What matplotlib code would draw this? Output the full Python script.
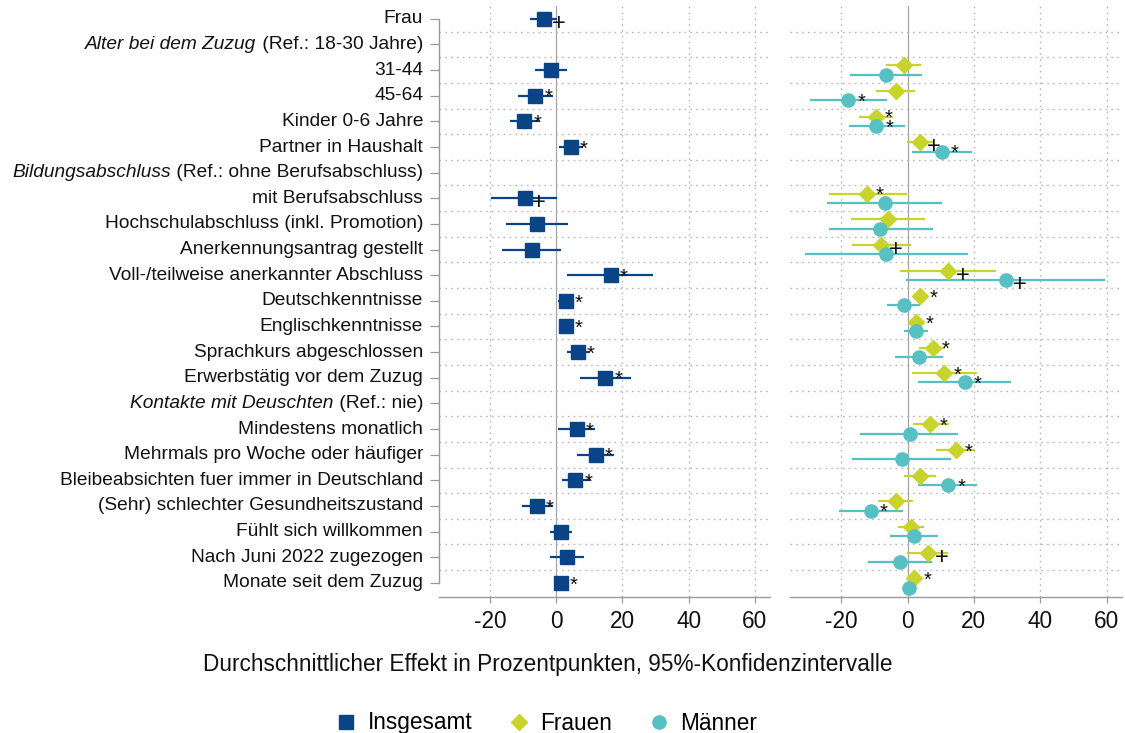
import numpy as np
import matplotlib
matplotlib.use("Agg")
import matplotlib.pyplot as plt
from matplotlib.lines import Line2D

plt.rcParams['font.family'] = ['Liberation Sans', 'DejaVu Sans']

nan = np.nan

# ---- data -------------------------------------------------------------
labels = [
    "Frau",
    ("Alter bei dem Zuzug", " (Ref.: 18-30 Jahre)"),
    "31-44",
    "45-64",
    "Kinder 0-6 Jahre",
    "Partner in Haushalt",
    ("Bildungsabschluss", " (Ref.: ohne Berufsabschluss)"),
    "mit Berufsabschluss",
    "Hochschulabschluss (inkl. Promotion)",
    "Anerkennungsantrag gestellt",
    "Voll-/teilweise anerkannter Abschluss",
    "Deutschkenntnisse",
    "Englischkenntnisse",
    "Sprachkurs abgeschlossen",
    "Erwerbstätig vor dem Zuzug",
    ("Kontakte mit Deuschten", " (Ref.: nie)"),
    "Mindestens monatlich",
    "Mehrmals pro Woche oder häufiger",
    "Bleibeabsichten fuer immer in Deutschland",
    "(Sehr) schlechter Gesundheitszustand",
    "Fühlt sich willkommen",
    "Nach Juni 2022 zugezogen",
    "Monate seit dem Zuzug",
]

# Insgesamt
ins_est = [-3.6, nan, -1.6, -6.3, -9.6, 4.4, nan, -9.4, -5.8, -7.3, 16.5, 2.9, 2.9, 6.6, 14.9,
           nan, 6.2, 12.0, 5.8, -5.8, 1.4, 3.2, 1.4]
ins_lo = [-7.8, nan, -6.3, -11.6, -13.9, 1.0, nan, -19.7, -15.1, -16.3, 3.4, 0.7, 1.2, 3.2, 7.2,
          nan, 0.7, 6.2, 1.7, -10.4, -2.0, -2.0, 0.2]
ins_hi = [0.4, nan, 3.2, -1.0, -5.1, 8.2, nan, 0.4, 3.5, 1.5, 29.3, 5.0, 4.7, 9.9, 22.5,
          nan, 11.8, 17.6, 10.3, -1.0, 4.7, 8.5, 2.7]
ins_sig = ["+", "", "", "*", "*", "*", "", "+", "", "", "*", "*", "*", "*", "*",
           "", "*", "*", "*", "*", "", "", "*"]

# Frauen
fr_est = [nan, nan, -1.1, -3.6, -9.6, 3.7, nan, -12.2, -6.0, -7.9, 12.3, 3.9, 2.7, 7.6, 11.1,
          nan, 6.9, 14.6, 3.7, -3.6, 1.0, 6.2, 2.0]
fr_lo = [nan, nan, -6.5, -9.6, -14.7, -0.3, nan, -23.7, -16.9, -16.6, -2.3, 1.5, 1.2, 3.5, 1.4,
         nan, 1.5, 8.6, -1.1, -8.9, -2.8, -0.3, 0.7]
fr_hi = [nan, nan, 4.2, 2.4, -4.3, 8.0, nan, -0.3, 5.2, 0.9, 26.7, 6.2, 4.2, 11.3, 20.8,
         nan, 12.5, 20.3, 8.6, 1.7, 5.0, 12.3, 3.2]
fr_sig = ["", "", "", "", "*", "+", "", "*", "", "+", "+", "*", "*", "*", "*",
          "", "*", "*", "", "", "", "+", "*"]

# Männer
ma_est = [nan, nan, -6.6, -17.9, -9.4, 10.3, nan, -6.8, -8.2, -6.4, 29.6, -1.1, 2.5, 3.4, 17.3,
          nan, 0.7, -1.8, 12.3, -11.1, 1.9, -2.3, 0.4]
ma_lo = [nan, nan, -17.2, -29.5, -17.7, 1.4, nan, -24.2, -23.8, -31.0, -0.5, -6.1, -1.0, -3.8, 3.2,
         nan, -14.4, -16.6, 3.2, -20.7, -5.3, -11.9, -0.5]
ma_hi = [nan, nan, 4.5, -6.3, -0.8, 19.3, nan, 10.5, 7.8, 18.3, 59.6, 3.9, 6.2, 10.8, 31.1,
         nan, 15.3, 13.0, 21.0, -1.3, 9.3, 7.3, 1.3]
ma_sig = ["", "", "", "*", "*", "*", "", "", "", "", "+", "", "", "", "*",
          "", "", "", "*", "*", "", "", ""]

xticks = [-20, 0, 20, 40, 60]
series_names = ["Insgesamt", "Frauen", "Männer"]

# ---- style ------------------------------------------------------------
C_INS = "#0b4387"
C_FR = "#c8d42b"
C_MA = "#57c0c3"
GRID = "#b8b8b8"
AX = "#9a9a9a"
BIG = 16.3
LBL_FS = 13.8

W, H = 1125, 733
fig = plt.figure(figsize=(W / 100, H / 100), dpi=100)

def frac_x(px):
    return px / W

def frac_y(py):
    return 1 - py / H

top, bot = 6, 597
axL = fig.add_axes([frac_x(439), frac_y(bot), frac_x(770 - 439), (bot - top) / H])
axR = fig.add_axes([frac_x(790), frac_y(bot), frac_x(1122 - 790), (bot - top) / H])

n = len(labels)
rows = np.arange(n)
XLIM = (-35.4, 64.6)

for ax in (axL, axR):
    ax.set_xlim(*XLIM)
    ax.set_ylim(n - 1 + 0.55, -0.5)
    for k in range(n - 1):
        ax.axhline(k + 0.5, color=GRID, lw=1.0, ls=(0, (1.2, 3.0)), zorder=0)
    for xv in xticks:
        if xv == 0:
            ax.axvline(0, color="#a5a5a5", lw=0.9, zorder=0.5)
        else:
            ax.axvline(xv, color=GRID, lw=1.0, ls=(0, (1.2, 3.0)), zorder=0)
    ax.set_xticks(xticks)
    ax.set_xticklabels([str(v) for v in xticks])
    ax.tick_params(axis="x", length=4.5, width=0.9, color=AX, labelsize=BIG,
                   pad=5, labelcolor="#111111")
    ax.spines["top"].set_visible(False)
    ax.spines["right"].set_visible(False)
    ax.spines["bottom"].set_color(AX)
    ax.spines["bottom"].set_linewidth(1.0)
    ax.set_facecolor("none")

# left axis spine with ticks
axL.spines["left"].set_color(AX)
axL.spines["left"].set_linewidth(1.0)
axL.spines["left"].set_bounds(0, n - 1)
axL.set_yticks(rows)
axL.set_yticklabels([])
axL.tick_params(axis="y", length=6.5, width=0.9, color=AX)
axR.spines["left"].set_visible(False)
axR.set_yticks([])

# row labels
for i, lab in enumerate(labels):
    if isinstance(lab, tuple):
        ital, norm = lab
        t = axL.annotate(norm, xy=(0, i), xycoords=("axes fraction", "data"),
                         xytext=(-16, 0), textcoords="offset pixels",
                         ha="right", va="center", fontsize=LBL_FS, color="#111111")
        axL.annotate(ital, xy=(0, 0), xycoords=t, ha="right", va="bottom",
                     fontsize=LBL_FS, fontstyle="italic", color="#111111")
    else:
        axL.annotate(lab, xy=(0, i), xycoords=("axes fraction", "data"),
                     xytext=(-16, 0), textcoords="offset pixels",
                     ha="right", va="center", fontsize=LBL_FS, color="#111111")


def draw_series(ax, est, lo, hi, sig, dy, color, marker, ms):
    est = np.asarray(est, float)
    lo = np.asarray(lo, float)
    hi = np.asarray(hi, float)
    y = rows + dy
    ok = ~np.isnan(est)
    ax.hlines(y[ok], lo[ok], hi[ok], color=color, lw=1.6, zorder=2)
    ax.plot(est[ok], y[ok], ls="none", marker=marker, ms=ms, color=color,
            mec=color, zorder=3)
    for yi, xi, s in zip(y, est, sig):
        if s and not np.isnan(xi):
            if s == "*":
                off = (13, -2)
                fs = 14.5
            else:
                off = (14, -5)
                fs = 17
            ax.annotate(s, xy=(xi, yi), xytext=off, textcoords="offset pixels",
                        ha="center", va="center", fontsize=fs, color="#111111",
                        zorder=4)


draw_series(axL, ins_est, ins_lo, ins_hi, ins_sig, 0.0, C_INS, "s", 9.4)
draw_series(axR, fr_est, fr_lo, fr_hi, fr_sig, -0.18, C_FR, "D", 8.2)
draw_series(axR, ma_est, ma_lo, ma_hi, ma_sig, 0.18, C_MA, "o", 9.5)

# axis title
fig.text(frac_x(548), frac_y(664), "Durchschnittlicher Effekt in Prozentpunkten, 95%-Konfidenzintervalle",
         ha="center", va="center", fontsize=BIG, color="#111111")

# legend
handles = [
    Line2D([], [], ls="none", marker="s", ms=9.4, color=C_INS, label=series_names[0]),
    Line2D([], [], ls="none", marker="D", ms=8.2, color=C_FR, label=series_names[1]),
    Line2D([], [], ls="none", marker="o", ms=9.5, color=C_MA, label=series_names[2]),
]
fig.legend(handles=handles, loc="center", bbox_to_anchor=(frac_x(546), frac_y(723)),
           ncol=3, frameon=False, fontsize=BIG, handlelength=1.0, handletextpad=0.45,
           columnspacing=1.55, borderaxespad=0, borderpad=0)

fig.savefig("out.png", dpi=100, facecolor="white")
